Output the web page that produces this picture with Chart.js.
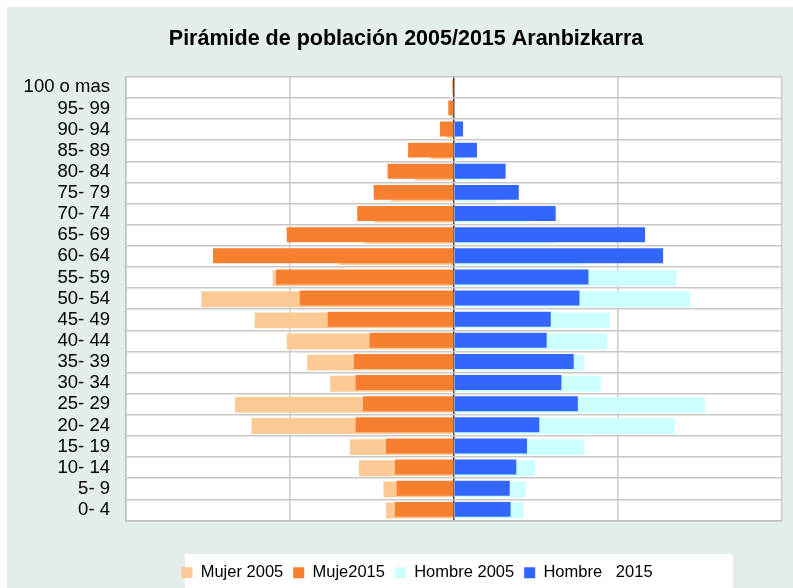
<!DOCTYPE html>
<html>
<head>
<meta charset="utf-8">
<script src="https://cdn.jsdelivr.net/npm/chart.js@4"></script>
<style>
  body { margin: 0; background: #fff; }
  #wrap { width: 793px; height: 588px; position: relative; }
</style>
</head>
<body>
<div id="wrap"><canvas id="pyramid"></canvas></div>
<script>
const ageGroups = ['100 o mas', '95- 99', '90- 94', '85- 89', '80- 84', '75- 79', '70- 74',
    '65- 69', '60- 64', '55- 59', '50- 54', '45- 49', '40- 44', '35- 39', '30- 34',
    '25- 29', '20- 24', '15- 19', '10- 14', '5- 9', '0- 4'];

const mujer2005 = [0, 3, 9, 28, 48, 77, 97, 109, 140, 221, 308, 243, 204, 179, 151, 267, 247, 127, 116, 86, 83];
const mujer2015 = [2, 7, 17, 56, 81, 98, 118, 204, 294, 217, 188, 154, 103, 122, 120, 111, 120, 83, 72, 70, 72];
const hombre2005 = [0, 0, 4, 14, 32, 54, 91, 125, 157, 271, 288, 190, 187, 159, 179, 306, 269, 159, 99, 87, 85];
const hombre2015 = [0, 0, 11, 28, 63, 79, 124, 233, 255, 164, 153, 118, 113, 146, 131, 151, 104, 89, 76, 68, 69];

const axisMax = 400;
const gridStep = 200;

// women go to the left
const neg = arr => arr.map(v => -v);

const backgroundPlugin = {
    id: 'background',
    afterLayout: function (chart) {
        // nudge title and legend a bit to the right, like the original
        chart.titleBlock.left += 5;
        chart.titleBlock.right += 5;
        chart.legend.left += 16;
        chart.legend.right += 16;
    },
    beforeDraw: function (chart) {
        const ctx = chart.ctx;
        const a = chart.chartArea;
        ctx.save();
        ctx.fillStyle = '#e3eeec';
        ctx.fillRect(7, 7, chart.width - 7, chart.height - 7);
        ctx.fillStyle = '#ffffff';
        ctx.fillRect(a.left, a.top, a.right - a.left, a.bottom - a.top);
        // white legend panel
        ctx.fillRect(185, 554, 548, 34);
        ctx.restore();
    }
};

const ctx = document.getElementById('pyramid').getContext('2d');
new Chart(ctx, {
    type: 'bar',
    data: {
        labels: ageGroups,
        datasets: [{
            label: 'Mujer 2005',
            data: neg(mujer2005),
            backgroundColor: '#fdca96',
            stack: 'y2005',
            order: 1,
            barPercentage: 13.3
        }, {
            label: 'Muje2015',
            data: neg(mujer2015),
            backgroundColor: '#f77f30',
            stack: 'y2015',
            order: 0,
            barPercentage: 12.5
        }, {
            label: 'Hombre 2005',
            data: hombre2005,
            backgroundColor: '#ccffff',
            stack: 'y2005',
            order: 1,
            barPercentage: 13.3
        }, {
            label: 'Hombre   2015',
            data: hombre2015,
            backgroundColor: '#3366ff',
            stack: 'y2015',
            order: 0,
            barPercentage: 12.5
        }]
    },
    options: {
        indexAxis: 'y',
        responsive: true,
        maintainAspectRatio: false,
        animation: false,
        categoryPercentage: 0.113,
        layout: { padding: { left: 20, right: 11, top: 0, bottom: -3 } },
        scales: {
            x: {
                type: 'linear',
                min: -axisMax,
                max: axisMax,
                stacked: false,
                ticks: { display: false, stepSize: gridStep },
                grid: {
                    drawTicks: false,
                    lineWidth: 1.5,
                    color: c => (c.tick && c.tick.value === 0) ? '#3a3a3a' : '#cccccc'
                },
                border: { display: true, color: '#c0c0c0', width: 1.5 },
                afterFit: function (scale) { scale.height = 34; }
            },
            y: {
                type: 'category',
                stacked: true,
                offset: true,
                grid: { offset: true, drawTicks: false, color: '#c8c8c8', lineWidth: 1.5 },
                border: { display: true, color: '#c0c0c0', width: 1.5 },
                ticks: {
                    color: '#000',
                    padding: 16,
                    autoSkip: false,
                    font: { family: 'Liberation Sans', size: 18.5 }
                },
                afterFit: function (scale) { scale.width = 106; }
            }
        },
        plugins: {
            title: {
                display: true,
                text: 'Pirámide de población 2005/2015 Aranbizkarra',
                color: '#000',
                font: { family: 'Liberation Sans', size: 21.5, weight: 'bold' },
                padding: { top: 26, bottom: 25 }
            },
            legend: {
                position: 'bottom',
                labels: {
                    color: '#000',
                    boxWidth: 11,
                    boxHeight: 11,
                    padding: 10,
                    font: { family: 'Liberation Sans', size: 16.5 },
                    sort: (a, b) => a.datasetIndex - b.datasetIndex
                }
            },
            tooltip: { enabled: false }
        }
    },
    plugins: [backgroundPlugin]
});
</script>
</body>
</html>
